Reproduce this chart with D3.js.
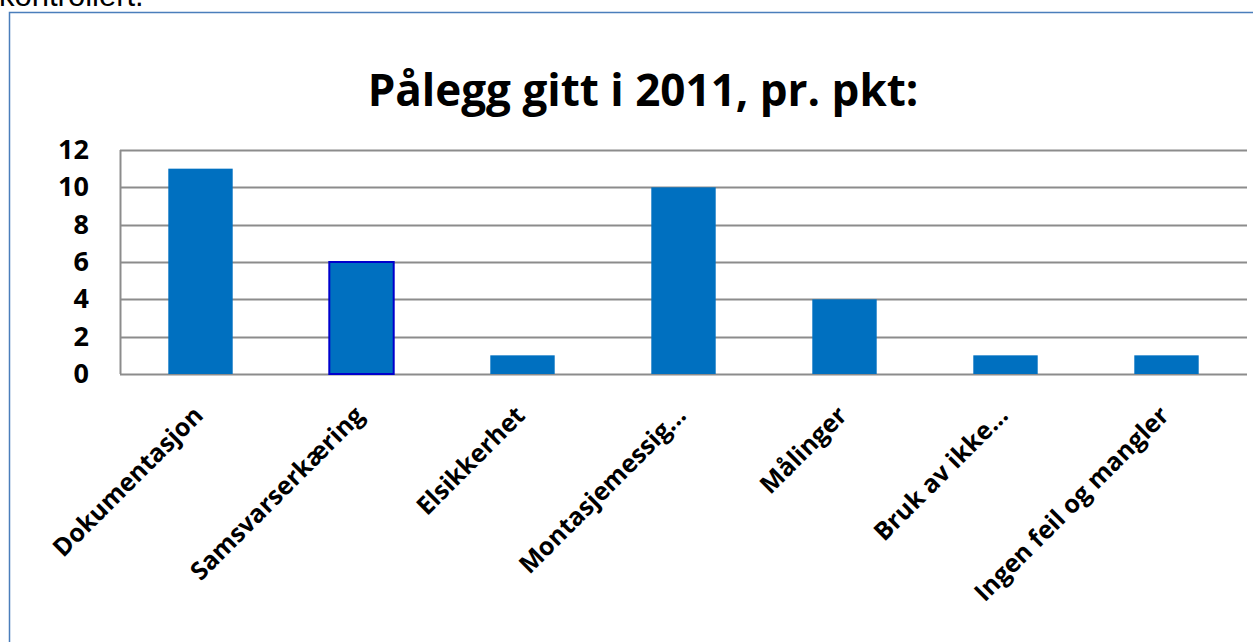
<!DOCTYPE html>
<html>
<head>
<meta charset="utf-8">
<script src="https://cdn.jsdelivr.net/npm/d3@7"></script>
<style>
    body { margin: 0; background: #fff; }
    svg { display: block; }
</style>
</head>
<body>
<svg id="chart"></svg>
<script>
// chart data
var categories = ["Dokumentasjon", "Samsvarserkæring", "Elsikkerhet", "Montasjemessig...",
    "Målinger", "Bruk av ikke...", "Ingen feil og mangler"];
var values = [11, 6, 1, 10, 4, 1, 1];
var yTicks = [0, 2, 4, 6, 8, 10, 12];
var title = "Pålegg gitt i 2011, pr. pkt:";

var width = 1253,
    height = 642,
    margin = {top: 150, bottom: 268, left: 120, right: 6};

var svg = d3.select("#chart")
    .attr("width", width)
    .attr("height", height);

// text cut off above the frame
svg.append("text")
    .attr("x", -1)
    .attr("y", 6)
    .style("font-family", "Liberation Sans, Arial, sans-serif")
    .style("font-size", "31px")
    .text("kontrollert.");

// frame of the chart object
svg.append("rect")
    .attr("x", 9.5)
    .attr("y", 12.5)
    .attr("width", 1300)
    .attr("height", 700)
    .attr("fill", "none")
    .attr("stroke", "#4a7ebb")
    .attr("stroke-width", 1.5);

svg.append("text")
    .attr("x", 643)
    .attr("y", 106)
    .attr("text-anchor", "middle")
    .style("font-family", "Open Sans, sans-serif")
    .style("font-weight", "bold")
    .style("font-size", "44px")
    .text(title);

var innerWidth = width - margin.left - margin.right;
var innerHeight = height - margin.top - margin.bottom;

var xScale = d3.scaleBand()
    .domain(categories)
    .range([0, innerWidth])
    .paddingInner(0.6)
    .paddingOuter(0.3);

var yScale = d3.scaleLinear()
    .domain([0, 12])
    .range([innerHeight, 0]);

var g = svg.append("g")
    .attr("transform", "translate(" + margin.left + "," + margin.top + ")");

// gridlines
g.selectAll(".grid")
    .data(yTicks)
    .enter().append("line")
    .attr("class", "grid")
    .attr("x1", 0)
    .attr("x2", innerWidth)
    .attr("y1", function (d) { return Math.round(yScale(d)) + 0.5; })
    .attr("y2", function (d) { return Math.round(yScale(d)) + 0.5; })
    .attr("stroke", "#8c8c8c")
    .attr("stroke-width", 2);

g.append("line")
    .attr("x1", 0.5).attr("x2", 0.5)
    .attr("y1", 0).attr("y2", innerHeight)
    .attr("stroke", "#8c8c8c")
    .attr("stroke-width", 2);

var yAxis = d3.axisLeft(yScale).tickValues(yTicks).tickSize(0).tickPadding(31);
var yAxisG = g.append("g").call(yAxis);
yAxisG.select(".domain").remove();
yAxisG.selectAll("text")
    .style("font-family", "Open Sans, sans-serif")
    .style("font-weight", "bold")
    .style("font-size", "27px")
    .attr("fill", "#000");

g.selectAll(".bar")
    .data(values)
    .enter().append("rect")
    .attr("class", "bar")
    .attr("x", function (d, i) { return xScale(categories[i]); })
    .attr("y", function (d) { return yScale(d); })
    .attr("width", xScale.bandwidth())
    .attr("height", function (d) { return innerHeight - yScale(d); })
    .attr("fill", "#0070c0")
    .attr("stroke", function (d, i) { return i === 1 ? "#0000cc" : "none"; })
    .attr("stroke-width", 2);

// rotated category labels
g.selectAll(".xlabel")
    .data(categories)
    .enter().append("text")
    .attr("class", "xlabel")
    .attr("text-anchor", "end")
    .attr("transform", function (d) {
        var cx = xScale(d) + xScale.bandwidth() / 2 + 4;
        return "translate(" + cx + "," + (innerHeight + 43) + ") rotate(-45)";
    })
    .style("font-family", "Open Sans, sans-serif")
    .style("font-weight", "bold")
    .style("font-size", "25px")
    .text(function (d) { return d; });
</script>
</body>
</html>
